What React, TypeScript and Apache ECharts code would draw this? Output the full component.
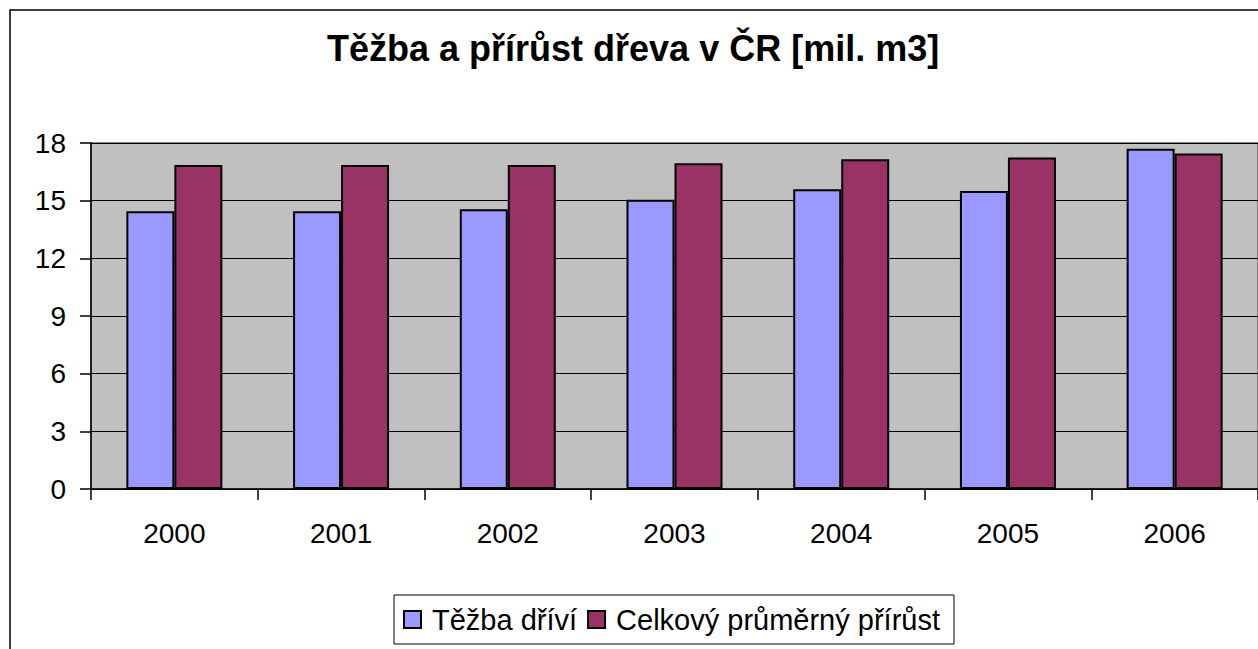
import React, { useEffect, useRef } from "react";
import * as echarts from "echarts";

const categories = ["2000", "2001", "2002", "2003", "2004", "2005", "2006"];
const tezba = [14.45, 14.45, 14.55, 15.05, 15.6, 15.5, 17.7];
const prirust = [16.85, 16.85, 16.85, 16.95, 17.15, 17.25, 17.45];
const seriesNames = ["Těžba dříví", "Celkový průměrný přírůst"];
const titleText = "Těžba a přírůst dřeva v ČR [mil. m3]";

const FONT = '"Liberation Sans", Arial, sans-serif';

export default function App() {
  const ref = useRef<HTMLDivElement>(null);
  useEffect(() => {
    if (!ref.current) return;
    const chart = echarts.init(ref.current, undefined, { renderer: "svg" });
    chart.setOption({
      animation: false,
      backgroundColor: "#ffffff",
      textStyle: { fontFamily: FONT },
      title: {
        text: titleText,
        left: 327,
        top: 30,
        padding: 0,
        textStyle: { fontFamily: FONT, fontSize: 36, fontWeight: "bold", color: "#000" },
      },
      graphic: [
        {
          type: "rect",
          shape: { x: 10, y: 10, width: 1260, height: 660 },
          style: { fill: "none", stroke: "#000", lineWidth: 1.5 },
          z: -1,
        },
      ],
      legend: {
        data: seriesNames,
        left: 394,
        top: 595,
        icon: "rect",
        itemWidth: 17,
        itemHeight: 17,
        itemGap: 10,
        padding: [10, 14, 10, 9],
        borderColor: "#000",
        borderWidth: 1,
        textStyle: { fontFamily: FONT, fontSize: 29, color: "#000", padding: [0, 0, 0, 6] },
      },
      grid: {
        left: 91,
        right: 0,
        top: 143,
        bottom: 160,
        show: true,
        backgroundColor: "#c0c0c0",
        borderColor: "#808080",
        borderWidth: 2,
      },
      xAxis: {
        type: "category",
        data: categories,
        axisLine: { lineStyle: { color: "#000", width: 1.5 } },
        axisTick: { show: true, length: 11, lineStyle: { color: "#000", width: 1.5 } },
        axisLabel: { fontFamily: FONT, fontSize: 28, color: "#000", margin: 30 },
      },
      yAxis: {
        type: "value",
        min: 0,
        max: 18,
        interval: 3,
        axisLine: { show: true, lineStyle: { color: "#000", width: 1.5 } },
        axisTick: { show: true, length: 11, lineStyle: { color: "#000", width: 1.5 } },
        axisLabel: { fontFamily: FONT, fontSize: 28, color: "#000", margin: 25 },
        splitLine: { show: true, lineStyle: { color: "#000", width: 1 } },
      },
      series: [
        {
          name: seriesNames[0],
          type: "bar",
          data: tezba,
          barWidth: 48,
          barGap: "0%",
          itemStyle: { color: "#9999ff", borderColor: "#000", borderWidth: 2 },
        },
        {
          name: seriesNames[1],
          type: "bar",
          data: prirust,
          barWidth: 48,
          barGap: "0%",
          itemStyle: { color: "#993366", borderColor: "#000", borderWidth: 2 },
        },
      ],
    });
    return () => chart.dispose();
  }, []);
  return (
    <div
      ref={ref}
      style={{ position: "absolute", left: 0, top: 0, width: 1258, height: 649 }}
    />
  );
}
